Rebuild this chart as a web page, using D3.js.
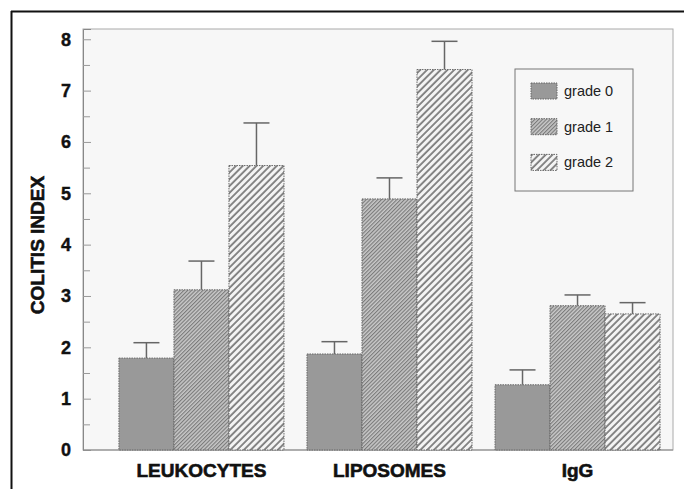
<!DOCTYPE html>
<html>
<head>
<meta charset="utf-8">
<script src="https://cdn.jsdelivr.net/npm/d3@7"></script>
<style>
  body { margin: 0; background: #fff; }
  svg text { font-family: "Liberation Sans", Arial, sans-serif; }
</style>
</head>
<body>
<div id="chart"></div>
<script>
// data
var categories = ["LEUKOCYTES", "LIPOSOMES", "IgG"];
var grades = ["grade 0", "grade 1", "grade 2"];
var grade0 = [1.79, 1.87, 1.27];
var grade1 = [3.12, 4.89, 2.81];
var grade2 = [5.54, 7.41, 2.65];
var err0 = [0.30, 0.24, 0.29];
var err1 = [0.56, 0.41, 0.21];
var err2 = [0.83, 0.55, 0.22];
var yTicks = [0, 1, 2, 3, 4, 5, 6, 7, 8];

var svgWidth = 684;
var svgHeight = 489;

var plot = { left: 83, right: 673, top: 29, bottom: 450 };

var svg = d3.select("#chart")
    .append("svg")
    .attr("width", svgWidth)
    .attr("height", svgHeight);

// hatch patterns
var defs = svg.append("defs");

var p1 = defs.append("pattern")
    .attr("id", "hatch1")
    .attr("patternUnits", "userSpaceOnUse")
    .attr("width", 2.7)
    .attr("height", 10)
    .attr("patternTransform", "rotate(45)");
p1.append("rect").attr("width", 2.7).attr("height", 10).attr("fill", "#c8c8c8");
p1.append("line").attr("x1", 0.6).attr("x2", 0.6).attr("y1", 0).attr("y2", 10)
    .attr("stroke", "#707070").attr("stroke-width", 1);

var p2 = defs.append("pattern")
    .attr("id", "hatch2")
    .attr("patternUnits", "userSpaceOnUse")
    .attr("width", 4.8)
    .attr("height", 10)
    .attr("patternTransform", "rotate(45)");
p2.append("rect").attr("width", 4.8).attr("height", 10).attr("fill", "#f4f4f4");
p2.append("line").attr("x1", 1).attr("x2", 1).attr("y1", 0).attr("y2", 10)
    .attr("stroke", "#5a5a5a").attr("stroke-width", 1.4);

var fills = ["#999", "url(#hatch1)", "url(#hatch2)"];

// outer border (cut at right and bottom in the scan)
svg.append("line").attr("x1", 11).attr("x2", svgWidth).attr("y1", 11.5).attr("y2", 11.5)
    .attr("stroke", "#111").attr("stroke-width", 2);
svg.append("line").attr("x1", 11.5).attr("x2", 11.5).attr("y1", 11).attr("y2", svgHeight)
    .attr("stroke", "#111").attr("stroke-width", 2);

// plot frame
svg.append("rect")
    .attr("x", plot.left)
    .attr("y", plot.top)
    .attr("width", plot.right - plot.left)
    .attr("height", plot.bottom - plot.top)
    .attr("fill", "#f7f7f7")
    .attr("stroke", "#aaa")
    .attr("stroke-width", 1);

var yScale = d3.scaleLinear()
    .domain([0, 8.2])
    .range([plot.bottom, plot.top]);

var xScale = d3.scaleBand()
    .domain(categories)
    .range([plot.left, plot.right])
    .paddingInner(0.1223)
    .paddingOuter(0.13)
    .align(0.735);

var xInner = d3.scaleBand()
    .domain(grades)
    .range([0, xScale.bandwidth()]);

// axes
var leftAxis = d3.axisLeft(yScale)
    .tickValues(yTicks)
    .tickSize(-8)
    .tickPadding(12)
    .tickFormat(d3.format("d"));

var yAxis = svg.append("g")
    .attr("transform", `translate(${plot.left},0)`)
    .call(leftAxis);
yAxis.select(".domain").attr("stroke", "#888");
yAxis.selectAll(".tick line").attr("stroke", "#999");
yAxis.selectAll(".tick text")
    .attr("fill", "#111")
    .attr("stroke", "#111")
    .attr("stroke-width", 0.4)
    .style("font-size", "18px")
    .style("font-weight", "bold")
    .style("font-family", "'Liberation Sans', Arial, sans-serif");

var minorAxis = d3.axisLeft(yScale)
    .tickValues(d3.range(0.5, 8, 1))
    .tickSize(-7)
    .tickFormat("");
var yMinor = svg.append("g")
    .attr("transform", `translate(${plot.left},0)`)
    .call(minorAxis);
yMinor.select(".domain").remove();
yMinor.selectAll(".tick line").attr("stroke", "#999");

svg.append("line")
    .attr("x1", plot.left).attr("x2", plot.right)
    .attr("y1", plot.bottom).attr("y2", plot.bottom)
    .attr("stroke", "#888");

// bars
var series = [grade0, grade1, grade2];
var errs = [err0, err1, err2];
var rows = [];
categories.forEach(function(cat, i) {
    grades.forEach(function(g, j) {
        rows.push({ cat: cat, grade: g, gi: j, value: series[j][i], err: errs[j][i] });
    });
});

var groups = svg.selectAll("g.bar")
    .data(rows)
    .enter()
    .append("g")
    .attr("class", "bar");

var mid = d => xScale(d.cat) + xInner(d.grade) + xInner.bandwidth() / 2;

// error bars
groups.append("line")
    .attr("x1", mid)
    .attr("x2", mid)
    .attr("y1", d => yScale(d.value))
    .attr("y2", d => yScale(d.value + d.err))
    .attr("stroke", "#666")
    .attr("stroke-width", 1.5);
groups.append("line")
    .attr("x1", d => mid(d) - 13)
    .attr("x2", d => mid(d) + 13)
    .attr("y1", d => yScale(d.value + d.err))
    .attr("y2", d => yScale(d.value + d.err))
    .attr("stroke", "#666")
    .attr("stroke-width", 1.5);

groups.append("rect")
    .attr("x", d => xScale(d.cat) + xInner(d.grade))
    .attr("y", d => yScale(d.value))
    .attr("width", xInner.bandwidth())
    .attr("height", d => plot.bottom - yScale(d.value))
    .attr("fill", d => fills[d.gi])
    .attr("stroke", "#666")
    .attr("stroke-width", 1)
    .attr("stroke-dasharray", "1.5,1");

// category labels
svg.selectAll("text.cat")
    .data(categories)
    .enter()
    .append("text")
    .attr("class", "cat")
    .attr("x", d => xScale(d) + xScale.bandwidth() / 2)
    .attr("y", 477)
    .attr("text-anchor", "middle")
    .style("font-size", "19px")
    .style("font-weight", "bold")
    .attr("fill", "#111")
    .attr("stroke", "#111")
    .attr("stroke-width", 0.6)
    .text(d => d);

// y title
svg.append("text")
    .attr("transform", "translate(44,245) rotate(-90)")
    .attr("text-anchor", "middle")
    .style("font-size", "19px")
    .style("font-weight", "bold")
    .attr("fill", "#111")
    .attr("stroke", "#111")
    .attr("stroke-width", 0.6)
    .text("COLITIS INDEX");

// legend
var legend = svg.append("g").attr("transform", "translate(515,69)");
legend.append("rect")
    .attr("width", 118)
    .attr("height", 122)
    .attr("fill", "#f7f7f7")
    .attr("stroke", "#777")
    .attr("stroke-width", 1);

var items = legend.selectAll("g.item")
    .data(grades)
    .enter()
    .append("g")
    .attr("class", "item")
    .attr("transform", (d, i) => `translate(16,${14 + i * 35.7})`);
items.append("rect")
    .attr("width", 26)
    .attr("height", 16)
    .attr("fill", (d, i) => fills[i])
    .attr("stroke", "#666")
    .attr("stroke-width", 1)
    .attr("stroke-dasharray", "1.5,1");
items.append("text")
    .attr("x", 33)
    .attr("y", 8)
    .attr("dy", "0.35em")
    .style("font-size", "14.5px")
    .attr("fill", "#222")
    .text(d => d);
</script>
</body>
</html>
